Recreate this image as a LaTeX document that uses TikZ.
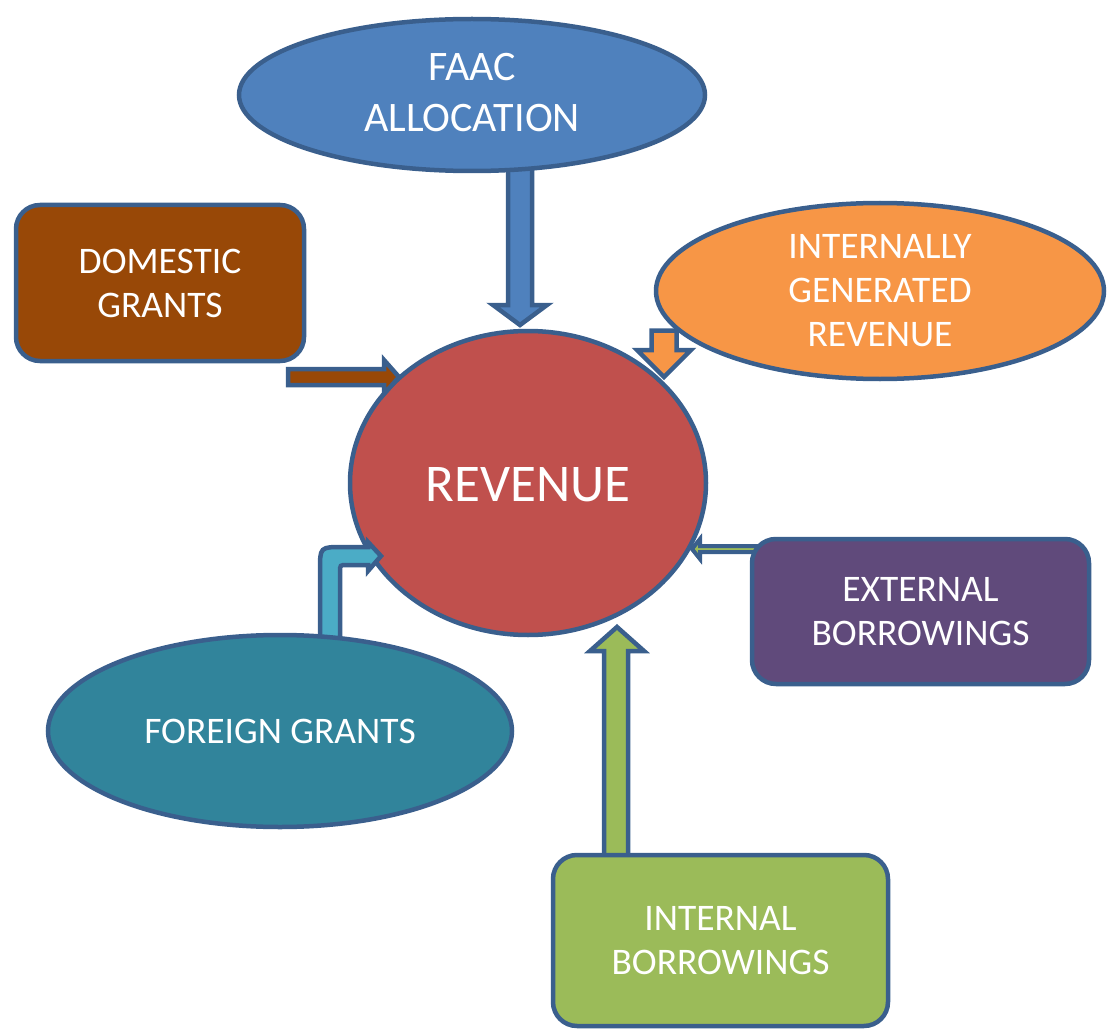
\documentclass[tikz,border=0pt]{standalone}
\usepackage{fontspec}
\setmainfont{Carlito}
\usetikzlibrary{shapes.geometric}
\definecolor{edge}{HTML}{3A5F8D}
\definecolor{cfaac}{HTML}{4F81BD}
\definecolor{cdom}{HTML}{984807}
\definecolor{cigr}{HTML}{F79646}
\definecolor{crev}{HTML}{C0504D}
\definecolor{cext}{HTML}{604A7B}
\definecolor{cfg}{HTML}{31849B}
\definecolor{clb}{HTML}{4BACC6}
\definecolor{cgrn}{HTML}{9BBB59}
\begin{document}
\begin{tikzpicture}[x=1pt,y=-1pt,
  every node/.style={text=white, font=\fontsize{37.5}{44}\selectfont, align=center},
  ell/.style={ellipse, draw=edge, line width=4.5pt, inner sep=0pt},
  box/.style={rectangle, rounded corners=24pt, draw=edge, line width=4.5pt, inner sep=0pt},
  blk/.style={draw=edge, line width=4.5pt, line join=miter}]
\useasboundingbox (0,0) rectangle (1112,1030);

% centre
\node[ell, fill=crev, minimum width=356pt, minimum height=304pt,
  label={[font=\fontsize{53}{60}\selectfont, yshift=-2pt]center:REVENUE}] (rev) at (528,483) {};

% block arrows
\filldraw[blk, fill=cfaac] (508,165) -- (508,305) -- (493,305) -- (520,325) -- (547,305) -- (532,305) -- (532,165) -- cycle;
\filldraw[blk, fill=cdom] (288,369) -- (384,369) -- (384,360) -- (399,377) -- (384,394) -- (384,385) -- (288,385) -- cycle;
\filldraw[blk, fill=cigr] (651.5,330.5) -- (651.5,350) -- (637,350) -- (664,377) -- (691,350) -- (676.5,350) -- (676.5,330.5) -- cycle;
\filldraw[blk, fill=clb] (320,645) -- (320,570) .. controls (320,547) .. (343,547) -- (368,547) -- (368,542) -- (381,556) -- (368,571) -- (368,565) -- (347,565) .. controls (340,565) .. (340,572) -- (340,645) -- cycle;
\filldraw[blk, fill=cgrn] (604,870) -- (604,651) -- (590,651) -- (617,627) -- (644,651) -- (628,651) -- (628,870) -- cycle;
\filldraw[draw=edge, line width=4pt, line join=miter, fill=cgrn] (760,546) -- (700,546) -- (700,539) -- (692,549) -- (700,559) -- (700,552) -- (760,552) -- cycle;

% sources
\node[ell, fill=cfaac, minimum width=466pt, minimum height=152pt,
  label={[font=\fontsize{42}{51}\selectfont, yshift=2pt]center:FAAC\\ALLOCATION}] (faac) at (472,95) {};
\node[box, fill=cdom, minimum width=288pt, minimum height=156pt] (dom) at (160,283) {DOMESTIC\\GRANTS};
\node[ell, fill=cigr, minimum width=448pt, minimum height=176pt,
  label={center:INTERNALLY\\GENERATED\\REVENUE}] (igr) at (880,291) {};
\node[box, fill=cext, minimum width=337pt, minimum height=145pt] (ext) at (920.5,611.5) {EXTERNAL\\BORROWINGS};
\node[ell, fill=cfg, minimum width=464pt, minimum height=192pt,
  label={center:FOREIGN GRANTS}] (fg) at (280,731) {};
\node[box, fill=cgrn, minimum width=335pt, minimum height=171pt] (ib) at (720.5,940.5) {INTERNAL\\BORROWINGS};
\end{tikzpicture}
\end{document}
